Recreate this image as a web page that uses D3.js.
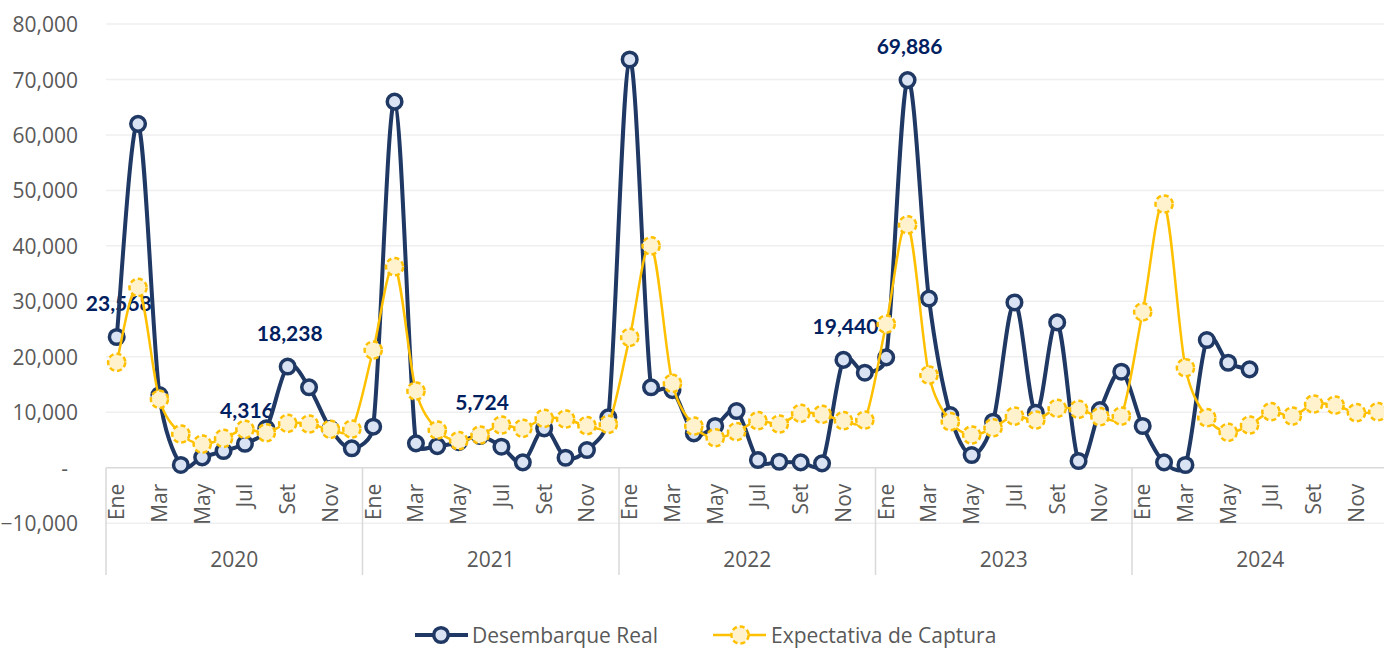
<!DOCTYPE html>
<html>
<head>
<meta charset="utf-8">
<script src="https://cdn.jsdelivr.net/npm/d3@7"></script>
<style>
  html, body { margin: 0; padding: 0; background: #fff; }
  svg { display: block; }
</style>
</head>
<body>
<svg id="chart" width="1384" height="648"></svg>
<script>
// ---------- DATA ----------
const years = ["2020", "2021", "2022", "2023", "2024"];
const months = ["Ene", "Feb", "Mar", "Abr", "May", "Jun", "Jul", "Ago", "Set", "Oct", "Nov", "Dic"];
const shownMonths = ["Ene", "Mar", "May", "Jul", "Set", "Nov"];
const yTicks = [-10000, 0, 10000, 20000, 30000, 40000, 50000, 60000, 70000, 80000];

const desembarqueReal = [
  23568, 62000, 13100, 500, 1870, 3010, 4316, 7100, 18238, 14500, 7000, 3500,
  7400, 66000, 4400, 3900, 4600, 5724, 3790, 970, 7100, 1800, 3190, 9080,
  73600, 14500, 14000, 6200, 7520, 10220, 1390, 1080, 960, 790, 19440, 17130,
  19900, 69886, 30500, 9500, 2290, 8300, 29800, 9920, 26200, 1210, 10400, 17310,
  7520, 970, 490, 23020, 18930, 17740, null, null, null, null, null, null
];
const expectativaCaptura = [
  19000, 32500, 12330, 6080, 4270, 5300, 6920, 6310, 8000, 7880, 6920, 6980,
  21220, 36240, 13830, 6800, 4870, 5900, 7700, 7100, 8900, 8780, 7580, 7820,
  23500, 40000, 15200, 7520, 5410, 6500, 8480, 7880, 9800, 9620, 8480, 8600,
  25900, 43800, 16710, 8300, 5900, 7210, 9320, 8600, 10700, 10530, 9200, 9320,
  28100, 47550, 18030, 9020, 6380, 7700, 10100, 9320, 11490, 11300, 9920, 10100
];
// indices (into desembarqueReal) that carry a data label
const labeledPoints = [0, 6, 8, 17, 34, 37];
const seriesNames = ["Desembarque Real", "Expectativa de Captura"];

// ---------- LAYOUT ----------
const svg = d3.select("#chart");
const plotLeft = 106, plotRight = 1388.5, plotTop = 24, plotBottom = 523.2;
const navy = "#1f3864", navyFill = "#dae3f3";
const gold = "#ffc000", goldFill = "#fff2cc";
const textGray = "#595959";
const axisFont = "'Open Sans', 'DejaVu Sans', sans-serif";

const keys = [];
years.forEach(yr => months.forEach(m => keys.push(yr + "-" + m)));

const x = d3.scaleBand().domain(keys).range([plotLeft, plotRight]).padding(0);
const cx = i => x(keys[i]) + x.bandwidth() / 2;
const y = d3.scaleLinear().domain([-10000, 80000]).range([plotBottom, plotTop]);

// Excel-style smoothed curve: Bezier with 1/6 tangents, clamped to half the segment length
function ExcelCurve(context) { this._context = context; }
ExcelCurve.prototype = {
  areaStart() {}, areaEnd() {},
  lineStart() { this._pts = []; },
  point(px, py) { this._pts.push([+px, +py]); },
  lineEnd() {
    const p = this._pts, c = this._context, n = p.length;
    if (!n) return;
    c.moveTo(p[0][0], p[0][1]);
    const dist = (a, b) => Math.hypot(a[0] - b[0], a[1] - b[1]);
    for (let i = 0; i < n - 1; i++) {
      const p0 = p[Math.max(i - 1, 0)], p1 = p[i], p2 = p[i + 1], p3 = p[Math.min(i + 2, n - 1)];
      const d12 = dist(p1, p2), d02 = dist(p0, p2), d13 = dist(p1, p3);
      let f1 = 1 / 6, f2 = 1 / 6;
      if (d02 / 6 > d12 / 2 && d02 > 0) f1 = d12 / (2 * d02);
      if (d13 / 6 > d12 / 2 && d13 > 0) f2 = d12 / (2 * d13);
      const c1 = [p1[0] + (p2[0] - p0[0]) * f1, p1[1] + (p2[1] - p0[1]) * f1];
      const c2 = [p2[0] - (p3[0] - p1[0]) * f2, p2[1] - (p3[1] - p1[1]) * f2];
      c.bezierCurveTo(c1[0], c1[1], c2[0], c2[1], p2[0], p2[1]);
    }
  }
};
const excelCurve = ctx => new ExcelCurve(ctx);

// gridlines
svg.append("g").selectAll("line")
  .data(yTicks.filter(t => t !== 0))
  .join("line")
  .attr("x1", plotLeft).attr("x2", plotRight)
  .attr("y1", d => y(d)).attr("y2", d => y(d))
  .attr("stroke", "#efefef").attr("stroke-width", 1.5);

// y axis labels
const yAxis = d3.axisLeft(y).tickValues(yTicks).tickSize(0)
  .tickFormat(d => d === 0 ? "-" : d3.format(",")(d));
const yg = svg.append("g").attr("transform", `translate(78,0)`).call(yAxis);
yg.select(".domain").remove();
yg.selectAll("text")
  .attr("x", d => d === 0 ? -10 : 0)
  .attr("dy", "0.36em")
  .attr("font-family", axisFont).attr("font-size", 21)
  .attr("fill", textGray);

// zero axis line
svg.append("line")
  .attr("x1", plotLeft).attr("x2", plotRight)
  .attr("y1", y(0)).attr("y2", y(0))
  .attr("stroke", "#d9d9d9").attr("stroke-width", 1.5);

// year separators
const yearBounds = years.map(yr => x(yr + "-Ene")).concat([plotRight]);
svg.append("g").selectAll("line")
  .data(yearBounds)
  .join("line")
  .attr("x1", d => d).attr("x2", d => d)
  .attr("y1", y(0)).attr("y2", 575)
  .attr("stroke", "#d9d9d9").attr("stroke-width", 1.5);

// month labels (rotated)
const monthLabelIdx = keys.map((k, i) => i).filter(i => shownMonths.includes(months[i % 12]));
svg.append("g").selectAll("text")
  .data(monthLabelIdx)
  .join("text")
  .attr("transform", i => `translate(${cx(i) + 7.5},${y(0) + 16}) rotate(-90)`)
  .attr("text-anchor", "end")
  .attr("font-family", axisFont).attr("font-size", 21)
  .attr("fill", textGray)
  .text(i => months[i % 12]);

// year labels
svg.append("g").selectAll("text")
  .data(years)
  .join("text")
  .attr("x", (d, i) => (yearBounds[i] + yearBounds[i + 1]) / 2)
  .attr("y", 567)
  .attr("text-anchor", "middle")
  .attr("font-family", axisFont).attr("font-size", 21)
  .attr("fill", textGray)
  .text(d => d);

// data labels (drawn beneath lines as in reference)
svg.append("g").selectAll("text")
  .data(labeledPoints)
  .join("text")
  .attr("x", i => cx(i) + 2)
  .attr("y", i => y(desembarqueReal[i]) - 26)
  .attr("text-anchor", "middle")
  .attr("font-family", "Lato, 'Open Sans', sans-serif")
  .attr("font-weight", 700).attr("font-size", 21)
  .attr("fill", "#002060")
  .text(i => d3.format(",")(desembarqueReal[i]));

const line = d3.line()
  .defined(d => d.v !== null)
  .x(d => cx(d.i)).y(d => y(d.v))
  .curve(excelCurve);

const realPts = desembarqueReal.map((v, i) => ({ i, v }));
const expPts = expectativaCaptura.map((v, i) => ({ i, v }));

// Desembarque Real
svg.append("path").datum(realPts)
  .attr("d", line).attr("fill", "none")
  .attr("stroke", navy).attr("stroke-width", 4)
  .attr("stroke-linejoin", "round");
svg.append("g").selectAll("circle")
  .data(realPts.filter(d => d.v !== null))
  .join("circle")
  .attr("cx", d => cx(d.i)).attr("cy", d => y(d.v))
  .attr("r", 7.3)
  .attr("fill", navyFill).attr("stroke", navy).attr("stroke-width", 3.5);

// Expectativa de Captura
svg.append("path").datum(expPts)
  .attr("d", line).attr("fill", "none")
  .attr("stroke", gold).attr("stroke-width", 2.5)
  .attr("stroke-linejoin", "round");
svg.append("g").selectAll("circle")
  .data(expPts)
  .join("circle")
  .attr("cx", d => cx(d.i)).attr("cy", d => y(d.v))
  .attr("r", 8.6)
  .attr("fill", goldFill).attr("stroke", gold).attr("stroke-width", 2.5)
  .attr("stroke-dasharray", "5,3");

// legend
const legendY = 635, legendBase = 643;
const lg = svg.append("g");
lg.append("line").attr("x1", 415).attr("x2", 468).attr("y1", legendY).attr("y2", legendY)
  .attr("stroke", navy).attr("stroke-width", 4);
lg.append("circle").attr("cx", 441).attr("cy", legendY).attr("r", 7.3)
  .attr("fill", navyFill).attr("stroke", navy).attr("stroke-width", 3.5);
lg.append("text").attr("x", 472).attr("y", legendBase)
  .attr("font-family", axisFont).attr("font-size", 21).attr("fill", textGray)
  .text(seriesNames[0]);
lg.append("line").attr("x1", 713).attr("x2", 766).attr("y1", legendY).attr("y2", legendY)
  .attr("stroke", gold).attr("stroke-width", 2.5);
lg.append("circle").attr("cx", 740).attr("cy", legendY).attr("r", 8.6)
  .attr("fill", goldFill).attr("stroke", gold).attr("stroke-width", 2.5)
  .attr("stroke-dasharray", "5,3");
lg.append("text").attr("x", 771).attr("y", legendBase)
  .attr("font-family", axisFont).attr("font-size", 21).attr("fill", textGray)
  .text(seriesNames[1]);
</script>
</body>
</html>
